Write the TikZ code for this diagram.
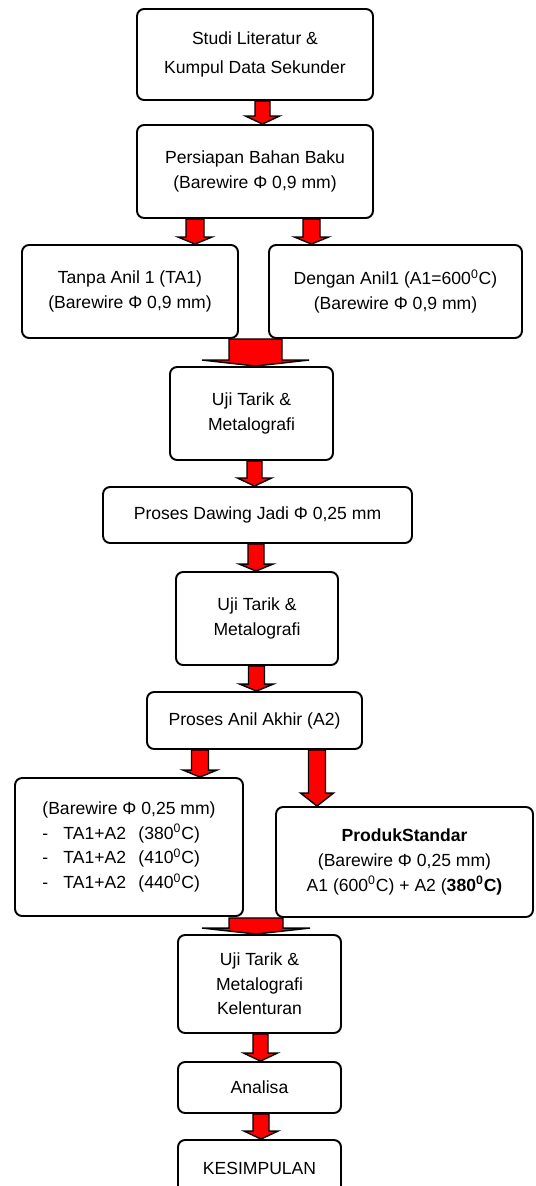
\documentclass[tikz,border=0pt]{standalone}
\usepackage{fontspec}
\setmainfont{Liberation Sans}
\usetikzlibrary{calc}

\tikzset{
  kotak/.style={draw, line width=1.1pt, rounded corners=4pt, align=center, inner sep=0pt,
    font=\fontsize{10}{14}\selectfont},
  panah/.style={draw=black, fill=red, line width=0.8pt, line join=miter}
}
% panah blok merah: dari, ke, x, setengah batang, setengah kepala, panjang kepala
\newcommand{\panahmerah}[6]{%
  \coordinate (ujung) at (#3,0);
  \draw[panah] ($(ujung |- #1.south)+(-#4,0)$) -- ($(ujung |- #2.north)+(-#4,-#6)$) -- ++(#4-#5,0)
    -- (ujung |- #2.north) -- ++(#5,-#6) -- ++(#4-#5,0) -- ($(ujung |- #1.south)+(#4,0)$) -- cycle;
}

\begin{document}
\begin{tikzpicture}[x=0.02cm, y=-0.02cm]
        \useasboundingbox (0,0) rectangle (535,1186);
        %kotak atas
        \node[kotak, minimum width=4.72cm, minimum height=1.82cm] (studi) at (255,54.5) {Studi Literatur \&\\[3pt]Kumpul Data Sekunder};
        \node[kotak, minimum width=4.72cm, minimum height=1.86cm] (persiapan) at (255,171.5) {Persiapan Bahan Baku\\(Barewire Φ 0,9 mm)};
        %cabang anil 1
        \node[kotak, minimum width=4.32cm, minimum height=1.86cm] (tanpa) at (130,291.5) {Tanpa Anil 1 (TA1)\\(Barewire Φ 0,9 mm)};
        \node[kotak, minimum width=5.06cm, minimum height=1.86cm] (dengan) at (395.5,291.5) {Dengan Anil1 (A1=600\textsuperscript{0}C)\\(Barewire Φ 0,9 mm)};
        %uji dan drawing
        \node[kotak, minimum width=3.26cm, minimum height=1.86cm] (uji1) at (251.5,413.5) {Uji Tarik \&\\Metalografi};
        \node[kotak, minimum width=6.18cm, minimum height=1.12cm] (dawing) at (257.5,515) {Proses Dawing Jadi Φ 0,25 mm};
        \node[kotak, minimum width=3.24cm, minimum height=1.86cm] (uji2) at (257,618.5) {Uji Tarik \&\\Metalografi};
        \node[kotak, minimum width=4.30cm, minimum height=1.14cm] (anil) at (254.5,720.5) {Proses Anil Akhir (A2)};
        %cabang anil 2
        \node[kotak, align=left, minimum width=4.56cm, minimum height=2.76cm] (varian) at (129,847) {(Barewire Φ 0,25 mm)\\
          \makebox[12pt][l]{-}TA1+A2\hspace{7pt}(380\textsuperscript{0}C)\\
          \makebox[12pt][l]{-}TA1+A2\hspace{7pt}(410\textsuperscript{0}C)\\
          \makebox[12pt][l]{-}TA1+A2\hspace{7pt}(440\textsuperscript{0}C)};
        \node[kotak, minimum width=5.14cm, minimum height=2.20cm] (produk) at (404.5,862) {\textbf{ProdukStandar}\\(Barewire Φ 0,25 mm)\\A1 (600\textsuperscript{0}C) + A2 (\textbf{380\textsuperscript{0}C)}};
        %kotak bawah
        \node[kotak, minimum width=3.26cm, minimum height=1.96cm] (uji3) at (259.5,984) {Uji Tarik \&\\Metalografi\\Kelenturan};
        \node[kotak, minimum width=3.26cm, minimum height=1.02cm] (analisa) at (259.5,1087.5) {Analisa};
        \node[kotak, minimum width=3.26cm, minimum height=1.12cm] (kesimpulan) at (259.5,1168) {KESIMPULAN};
        %panah
        \panahmerah{studi}{persiapan}{262.5}{7.5}{17}{8}
        \panahmerah{persiapan}{tanpa}{195}{9}{17}{7}
        \panahmerah{persiapan}{dengan}{311.5}{8.5}{17}{7}
        \panahmerah{tanpa}{uji1}{255.5}{26.5}{53.5}{6}
        \panahmerah{uji1}{dawing}{254.5}{7.5}{17}{8}
        \panahmerah{dawing}{uji2}{256}{8}{17}{7}
        \panahmerah{uji2}{anil}{256.5}{8}{17}{7}
        \panahmerah{anil}{varian}{200}{8.5}{17}{7}
        \panahmerah{anil}{produk}{317}{8.5}{16.5}{13}
        \panahmerah{produk}{uji3}{256}{27}{54}{6}
        \panahmerah{uji3}{analisa}{260.5}{7.5}{17}{8}
        \panahmerah{analisa}{kesimpulan}{261}{8}{17}{8}
\end{tikzpicture}
\end{document}
